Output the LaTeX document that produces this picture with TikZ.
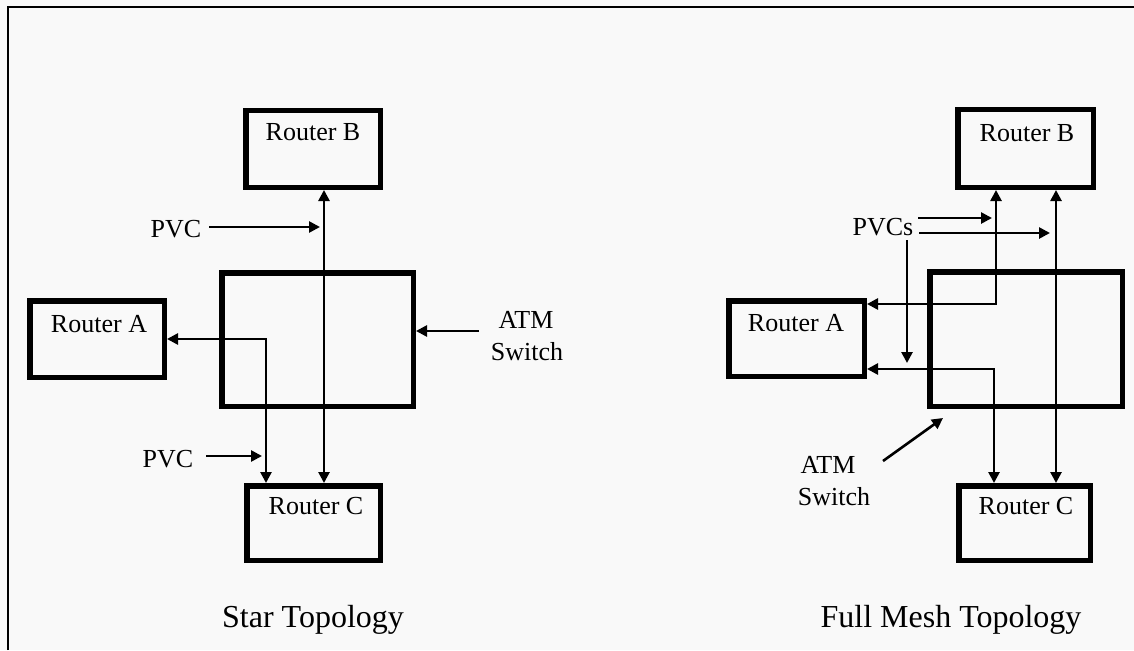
\documentclass[tikz,border=0pt]{standalone}
\usepackage{fontspec}
\setmainfont{Liberation Serif}
\usetikzlibrary{arrows.meta}
\begin{document}
\begin{tikzpicture}[x=1pt,y=-1pt,
  box/.style={draw, line width=5.5pt, inner sep=0pt},
  lbl/.style={inner sep=0pt, anchor=base, font=\fontsize{26}{31}\selectfont},
  captext/.style={inner sep=0pt, anchor=base, font=\fontsize{32}{38}\selectfont},
  tipa/.tip={Triangle[length=11pt,width=11pt]},
  conn/.style={line width=2.6pt, tipa-tipa},
  ptr/.style={line width=2.6pt, -tipa}]
\fill[gray!5] (0,0) rectangle (1134,650);
\useasboundingbox (0,0) rectangle (1134,650);
\draw[line width=2pt] (8,650) -- (8,7) -- (1134,7);

% ---------- Star topology ----------
\node[box, minimum width=134.5pt, minimum height=76.5pt] (LB) at (313,149) {};
\node[box, minimum width=191.5pt, minimum height=133.5pt] (LS) at (317.5,339.5) {};
\node[box, minimum width=134.5pt, minimum height=76.5pt] (LA) at (97,339) {};
\node[box, minimum width=133.5pt, minimum height=74.5pt] (LC) at (313.5,523) {};

\node[lbl] (LBt) at (313,140) {Router B};
\node[lbl] (LAt) at (99,332) {Router A};
\node[lbl] (LCt) at (316,514) {Router C};
\node[lbl] (LP1) at (176,237) {PVC};
\node[lbl] (LP2) at (168,467) {PVC};
\node[lbl] (LATM) at (526,328) {ATM};
\node[lbl] (LSwt) at (527,360) {Switch};
\node[captext] (Lcap) at (313,627) {Star Topology};

\coordinate (lx1) at (324,0);
\coordinate (lx2) at (266,0);
\draw[conn] (LB.south -| lx1) -- (LC.north -| lx1);
\draw[conn] (LA.east) -| (LC.north -| lx2);

\coordinate (lp1s) at (209,227);
\coordinate (lp1e) at (320,227);
\draw[ptr] (lp1s) -- (lp1e);
\coordinate (lp2s) at (206,456);
\coordinate (lp2e) at (262,456);
\draw[ptr] (lp2s) -- (lp2e);
\coordinate (las) at (479,331);
\draw[ptr] (las) -- (LS.east |- las);

% ---------- Full mesh topology ----------
\node[box, minimum width=135.5pt, minimum height=77.5pt] (RB) at (1025.5,148.5) {};
\node[box, minimum width=192.5pt, minimum height=134.5pt] (RS) at (1026,339) {};
\node[box, minimum width=135.5pt, minimum height=75.5pt] (RA) at (796.5,338.5) {};
\node[box, minimum width=131.5pt, minimum height=74.5pt] (RC) at (1024.5,523) {};

\node[lbl] (RBt) at (1027,141) {Router B};
\node[lbl] (RAt) at (796,331) {Router A};
\node[lbl] (RCt) at (1026,514) {Router C};
\node[lbl] (RP) at (883,235) {PVCs};
\node[lbl] (RATM) at (828,473) {ATM};
\node[lbl] (RSwt) at (834,505) {Switch};
\node[captext] (Rcap) at (951,627) {Full Mesh Topology};

\coordinate (ry1) at (0,304);
\coordinate (ry2) at (0,369);
\coordinate (rx1) at (996,0);
\coordinate (rx2) at (994,0);
\coordinate (rx3) at (1056,0);
\draw[conn] (RA.east |- ry1) -| (RB.south -| rx1);
\draw[conn] (RA.east |- ry2) -| (RC.north -| rx2);
\draw[conn] (RB.south -| rx3) -- (RC.north -| rx3);

\coordinate (rp1s) at (918,218);
\coordinate (rp1e) at (992,218);
\coordinate (rp2s) at (919,233);
\coordinate (rp2e) at (1050,233);
\coordinate (rp3s) at (907,240);
\coordinate (rp3e) at (907,363);
\draw[ptr] (rp1s) -- (rp1e);
\draw[ptr] (rp2s) -- (rp2e);
\draw[ptr] (rp3s) -- (rp3e);
\coordinate (ras) at (883,461);
\coordinate (rae) at (943,418);
\draw[ptr] (ras) -- (rae);
\end{tikzpicture}
\end{document}
